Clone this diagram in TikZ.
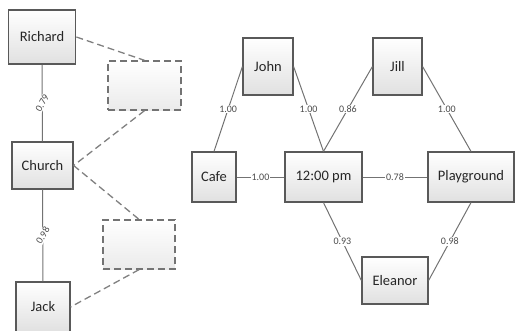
\documentclass[tikz,border=0pt]{standalone}
\usepackage{fontspec}
\setmainfont{Carlito}
\begin{document}
\begin{tikzpicture}[x=1pt,y=-1pt,
  box/.style={draw=black!65, line width=1.2pt, top color=white, bottom color=black!12, inner sep=0pt, font=\fontsize{14.5}{16}\selectfont, text=black!85},
  ghost/.style={draw=black!55, line width=1.3pt, dash pattern=on 7pt off 4pt, top color=white, bottom color=black!8, inner sep=0pt},
  link/.style={draw=black!55, line width=1pt},
  dlink/.style={draw=black!50, line width=1.3pt, dash pattern=on 7pt off 4pt},
  wt/.style={fill=white, inner sep=0.8pt, font=\fontsize{10}{11}\selectfont, text=black!70}]
\useasboundingbox (0,0) rectangle (515,330);
% left
\node[box, line width=1.8pt, minimum width=67pt, minimum height=54pt] (richard) at (42,37) {Richard};
\node[ghost, minimum width=73pt, minimum height=49pt] (g1) at (144.5,85.5) {};
\node[box, minimum width=61pt, minimum height=47pt] (church) at (42.5,165.5) {Church};
\node[ghost, minimum width=72pt, minimum height=49pt] (g2) at (139,244.5) {};
\node[box, minimum width=54pt, minimum height=50pt] (jack) at (43,307) {Jack};
\draw[link] (richard.south) -- node[wt, rotate=60] {0.79} (church.north);
\draw[link] (church.south) -- node[wt, rotate=60] {0.98} (jack.north);
\draw[dlink] (richard.east) -- (g1.north);
\draw[dlink] (g1.south) -- (church.east);
\draw[dlink] (church.east) -- (g2.north);
\draw[dlink] (g2.south) -- (jack.east);
% right
\node[box, minimum width=50pt, minimum height=57pt] (john) at (268,66.5) {John};
\node[box, minimum width=49pt, minimum height=57pt] (jill) at (397.5,66.5) {Jill};
\node[box, minimum width=44pt, minimum height=50pt] (cafe) at (214,177) {Cafe};
\node[box, minimum width=77pt, minimum height=50pt] (noon) at (323.5,177) {12:00 pm};
\node[box, minimum width=86pt, minimum height=50pt] (play) at (471,177) {Playground};
\node[box, minimum width=66pt, minimum height=47pt] (eleanor) at (395,280.5) {Eleanor};
\draw[link] (john.west) -- node[wt] {1.00} (cafe.north);
\draw[link] (john.east) -- node[wt] {1.00} (noon.north);
\draw[link] (jill.west) -- node[wt] {0.86} (noon.north);
\draw[link] (jill.east) -- node[wt] {1.00} (play.north);
\draw[link] (cafe.east) -- node[wt] {1.00} (noon.west);
\draw[link] (noon.east) -- node[wt] {0.78} (play.west);
\draw[link] (noon.south) -- node[wt] {0.93} (eleanor.west);
\draw[link] (play.south) -- node[wt] {0.98} (eleanor.east);
\end{tikzpicture}
\end{document}
